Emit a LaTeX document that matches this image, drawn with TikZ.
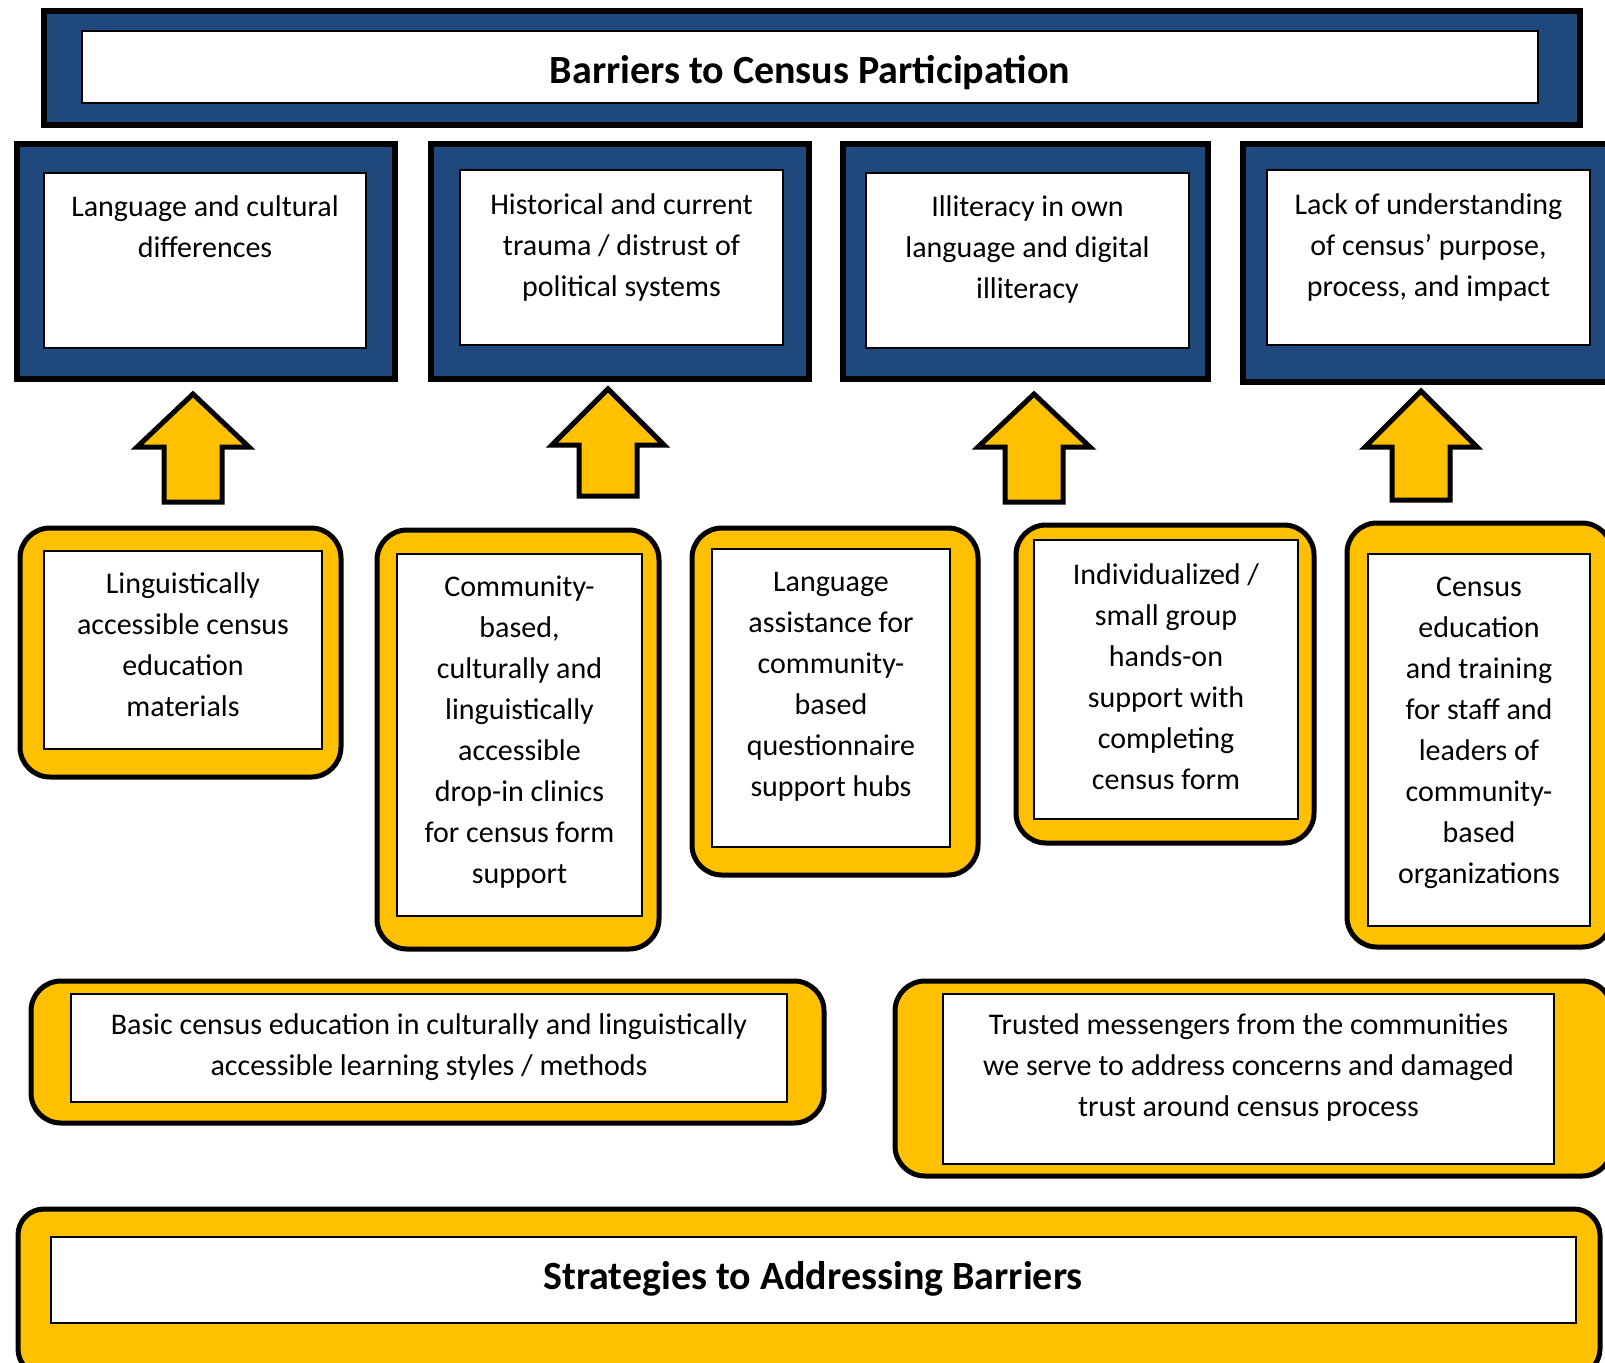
\documentclass[tikz,border=0pt]{standalone}
\usepackage{fontspec}
\setmainfont{Carlito}
\usetikzlibrary{fit}
\definecolor{navy}{HTML}{1F487C}
\definecolor{gold}{HTML}{FFC000}
\newcommand\blockup[5]{% name, cx, tip, headbase, base
  \coordinate (#1) at (#2,#3);
  \draw[arr] (#1) -- ({#2+56},#4) -- ({#2+29},#4) -- ({#2+29},#5) -- ({#2-29},#5) -- ({#2-29},#4) -- ({#2-56},#4) -- cycle;}
\begin{document}
\begin{tikzpicture}[x=0.5pt,y=-0.5pt,
  blueframe/.style={draw=black, line width=3pt, fill=navy, inner sep=0pt},
  whitein/.style={draw=black, line width=1pt, fill=white, inner sep=0pt},
  goldframe/.style={draw=black, line width=2.5pt, fill=gold, rounded corners=15pt, inner sep=0pt},
  txt/.style={align=center, font=\fontsize{15pt}{20.5pt}\selectfont, inner sep=0pt},
  ttl/.style={font=\fontsize{20pt}{24pt}\selectfont\bfseries, inner sep=0pt},
  arr/.style={draw=black, line width=2.5pt, fill=gold, line join=miter}]
\useasboundingbox (0,0) rectangle (1605,1362);

% Title banner
\node[blueframe, fit={(44,11)(1580,125)}] (banner) {};
\node[whitein, fit={(82,31)(1538,103)}] (bannerin) {};
\node[ttl] (title) at (810,73) {Barriers to Census Participation};

% Barriers
\node[blueframe, fit={(17,144)(395,379)}] (b1) {};
\node[whitein, fit={(44,173)(366,348)}] (b1in) {};
\node[txt] (b1t) at (205,226.5) {Language and cultural\\differences};

\node[blueframe, fit={(431,144)(809,379)}] (b2) {};
\node[whitein, fit={(460,170)(783,345)}] (b2in) {};
\node[txt] (b2t) at (621.5,247) {Historical and current\\trauma / distrust of\\political systems};

\node[blueframe, fit={(843,144)(1208,379)}] (b3) {};
\node[whitein, fit={(866,173)(1189,348)}] (b3in) {};
\node[txt] (b3t) at (1027.5,249) {Illiteracy in own\\language and digital\\illiteracy};

\node[blueframe, fit={(1243,144)(1612,382)}] (b4) {};
\node[whitein, fit={(1267,170)(1590,345)}] (b4in) {};
\node[txt] (b4t) at (1428.5,247) {Lack of understanding\\of census’ purpose,\\process, and impact};

% Arrows
\blockup{a1}{193}{394}{447}{502}
\blockup{a2}{608}{389}{445}{496}
\blockup{a3}{1034}{394}{447}{502}
\blockup{a4}{1421}{391}{447}{500}

% Strategies
\node[goldframe, fit={(20,528)(341,777)}] (s1) {};
\node[whitein, fit={(44,551)(322,749)}] (s1in) {};
\node[txt] (s1t) at (183,645) {Linguistically\\accessible census\\education\\materials};

\node[goldframe, fit={(377,530)(659,949)}] (s2) {};
\node[whitein, fit={(397,554)(642,916)}] (s2in) {};
\node[txt] (s2t) at (519.5,732) {Community-\\based,\\culturally and\\linguistically\\accessible\\drop-in clinics\\for census form\\support};

\node[goldframe, fit={(692,528)(978,875)}] (s3) {};
\node[whitein, fit={(712,549)(950,847)}] (s3in) {};
\node[txt] (s3t) at (831,686.5) {Language\\assistance for\\community-\\based\\questionnaire\\support hubs};

\node[goldframe, fit={(1016,525)(1314,843)}] (s4) {};
\node[whitein, fit={(1034,540)(1298,819)}] (s4in) {};
\node[txt] (s4t) at (1166,677) {Individualized /\\small group\\hands-on\\support with\\completing\\census form};

\node[goldframe, fit={(1347,523)(1612,947)}] (s5) {};
\node[whitein, fit={(1368,554)(1590,926)}] (s5in) {};
\node[txt] (s5t) at (1479,733) {Census\\education\\and training\\for staff and\\leaders of\\community-\\based\\organizations};

\node[goldframe, fit={(31,981)(824,1123)}] (s6) {};
\node[whitein, fit={(71,994)(787,1102)}] (s6in) {};
\node[txt] (s6t) at (429,1047) {Basic census education in culturally and linguistically\\accessible learning styles / methods};

\node[goldframe, fit={(895,981)(1612,1176)}] (s7) {};
\node[whitein, fit={(943,994)(1554,1164)}] (s7in) {};
\node[txt] (s7t) at (1248.5,1067.5) {Trusted messengers from the communities\\we serve to address concerns and damaged\\trust around census process};

\node[goldframe, rounded corners=13pt, fit={(18,1209)(1600,1375)}] (s8) {};
\node[whitein, fit={(51,1237)(1576,1323)}] (s8in) {};
\node[ttl] (s8t) at (813,1279) {Strategies to Addressing Barriers};
\end{tikzpicture}
\end{document}
